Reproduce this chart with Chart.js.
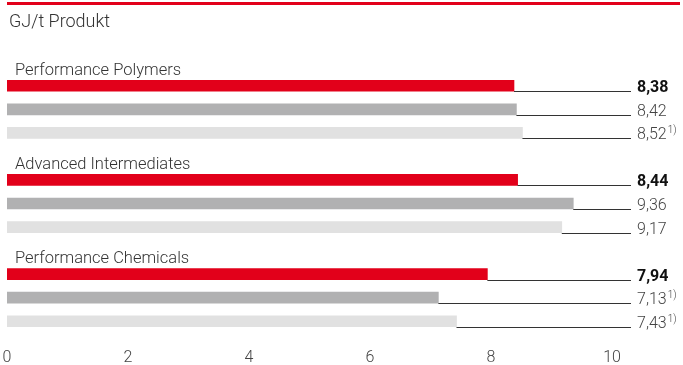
<!DOCTYPE html>
<html>
<head>
<meta charset="utf-8">
<script src="https://cdn.jsdelivr.net/npm/chart.js@4"></script>
<style>
  body { margin: 0; background: #fff; }
  #wrap { width: 683px; height: 365px; position: relative; }
</style>
</head>
<body>
<div id="wrap"><canvas id="energieChart"></canvas></div>
<script>
// Données
const unite = 'GJ/t Produkt';
const segments = ['Performance Polymers', 'Advanced Intermediates', 'Performance Chemicals'];
const valeursAnnee = [8.38, 8.44, 7.94];        // rouge
const valeursAnneeMoins1 = [8.42, 9.36, 7.13];  // gris foncé
const valeursAnneeMoins2 = [8.52, 9.17, 7.43];  // gris clair
const notesMoins1 = ['', '', '1)'];
const notesMoins2 = ['1)', '', '1)'];
const ticksX = [0, 2, 4, 6, 8, 10];

const rouge = '#e2001a';
const grisFonce = '#b1b1b2';
const grisClair = '#e1e1e1';
const police = 'Roboto';

// Construit les lignes : 3 barres par segment + une ligne vide entre les groupes
const lignes = [];
const valeurs = [];
const couleurs = [];
const infos = [];
segments.forEach(function(seg, i) {
    const serie = [
        { v: valeursAnnee[i], c: rouge, gras: true, note: '' },
        { v: valeursAnneeMoins1[i], c: grisFonce, gras: false, note: notesMoins1[i] },
        { v: valeursAnneeMoins2[i], c: grisClair, gras: false, note: notesMoins2[i] }
    ];
    serie.forEach(function(s, k) {
        lignes.push(seg + ' ' + k);
        valeurs.push(s.v);
        couleurs.push(s.c);
        infos.push(s);
    });
    if (i < segments.length - 1) {
        lignes.push('vide ' + i);
        valeurs.push(null);
        couleurs.push('transparent');
        infos.push(null);
    }
});

const format = v => v.toFixed(2).replace('.', ',');

// Plugin pour titres, étiquettes de groupe et valeurs
const decorations = {
    id: 'decorations',
    afterDatasetsDraw(chart) {
        const ctx = chart.ctx;
        const area = chart.chartArea;
        const yScale = chart.scales.y;
        const meta = chart.getDatasetMeta(0);

        ctx.save();
        // ligne rouge en haut
        ctx.fillStyle = rouge;
        ctx.fillRect(7, 2, 673, 3);

        ctx.fillStyle = '#333';
        ctx.font = '300 18px ' + police;
        ctx.textBaseline = 'middle';
        ctx.textAlign = 'left';
        ctx.fillText(unite, 9, 22);

        // étiquettes des segments
        ctx.font = '300 16.5px ' + police;
        segments.forEach(function(seg, i) {
            const y = yScale.getPixelForValue(i * 4) - 15;
            ctx.fillText(seg, 15, y);
        });

        // lignes de rappel et valeurs
        const xFin = area.right + 19;
        meta.data.forEach(function(el, j) {
            const info = infos[j];
            if (!info) return;
            const bas = Math.round(el.y + el.height / 2);
            ctx.strokeStyle = '#333';
            ctx.lineWidth = 1;
            ctx.beginPath();
            ctx.moveTo(el.x, bas + 0.5);
            ctx.lineTo(xFin, bas + 0.5);
            ctx.stroke();

            ctx.textBaseline = 'alphabetic';
            ctx.fillStyle = info.gras ? '#111' : '#444';
            ctx.font = (info.gras ? 'bold ' : '300 ') + '16px ' + police;
            const txt = format(info.v);
            ctx.fillText(txt, xFin + 6, bas + 0.5);
            if (info.note) {
                const w = ctx.measureText(txt).width;
                ctx.font = '300 10px ' + police;
                ctx.fillText(info.note, xFin + 6 + w + 1, bas - 5);
            }
        });
        ctx.restore();
    }
};

new Chart(document.getElementById('energieChart').getContext('2d'), {
    type: 'bar',
    data: {
        labels: lignes,
        datasets: [{
            data: valeurs,
            backgroundColor: couleurs,
            barThickness: 11,
            borderWidth: 0
        }]
    },
    options: {
        indexAxis: 'y',
        responsive: true,
        maintainAspectRatio: false,
        animation: false,
        layout: { padding: { left: 7, right: 71, top: 74, bottom: -18 } },
        plugins: {
            legend: { display: false },
            tooltip: { enabled: false }
        },
        scales: {
            x: {
                min: 0,
                max: 10,
                afterBuildTicks: function(axis) {
                    axis.ticks = ticksX.map(v => ({ value: v }));
                },
                afterFit: function(axis) {
                    // pas de marge automatique pour les libellés
                    axis.paddingLeft = 0;
                    axis.paddingRight = 0;
                },
                grid: { display: false, drawTicks: false },
                border: { display: false },
                ticks: {
                    padding: 17,
                    color: '#444',
                    font: { family: police, size: 16, weight: '300', lineHeight: 1 }
                }
            },
            y: {
                display: false
            }
        }
    },
    plugins: [decorations]
});
</script>
</body>
</html>
